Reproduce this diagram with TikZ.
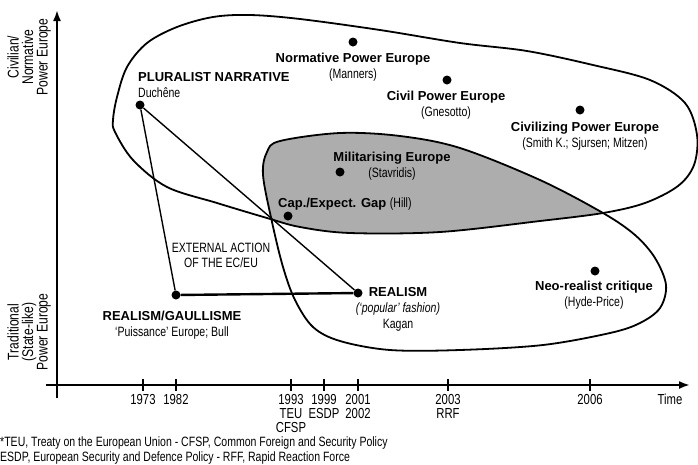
\documentclass[tikz,border=0pt]{standalone}
\usepackage{fontspec}
\setmainfont{Liberation Sans}
\newfontfamily\condfont[FakeStretch=0.78]{Liberation Sans}
\usetikzlibrary{arrows.meta}
\tikzset{
  axis/.style={line width=2pt,-{Latex[length=11pt,width=8pt]}},
  tickmark/.style={line width=1.8pt},
  blob/.style={line width=1.8pt},
  capfill/.style={fill=black!32},
  dot/.style={circle,fill=black,inner sep=0pt,minimum size=9pt},
  thinlink/.style={line width=1.4pt},
  thicklink/.style={line width=2.4pt},
  ttl/.style={font=\fontsize{13}{16}\selectfont,align=center,inner sep=0pt},
  cond/.style={font=\condfont\fontsize{13.5}{15.5}\selectfont,align=center,inner sep=0pt},
  note/.style={font=\condfont\fontsize{13.5}{14.5}\selectfont,align=left,inner sep=0pt},
  yrlbl/.style={font=\condfont\fontsize{14.5}{14}\selectfont,align=center,inner sep=0pt,anchor=north},
  sidelbl/.style={font=\condfont\fontsize{15.5}{14.5}\selectfont,align=center,inner sep=0pt,rotate=90}
}
\newcommand{\subt}[1]{{\condfont\fontsize{13.5}{16}\selectfont #1}}
\begin{document}
\begin{tikzpicture}[x=1pt,y=-1pt]
\useasboundingbox (0,0) rectangle (698,464);
\def\bigblob{plot[smooth cycle,tension=0.55] coordinates{(113,120) (117,97) (127,67) (147,43) (177,27) (213,17) (250,15) (300,19) (380,30) (460,43) (527,51) (593,65) (650,80) (685,103) (697,135) (694,165) (678,186) (645,203) (603,213) (540,221) (440,232) (350,233) (300,227) (267,218) (217,203) (167,187) (133,160) (115,132)}}
\def\lowblob{plot[smooth cycle,tension=0.55] coordinates{(263,175) (267,152) (280,141) (340,133) (400,136) (460,148) (540,180) (603,213) (635,235) (655,258) (666,285) (660,308) (640,323) (610,333) (543,345) (460,350) (390,350) (340,341) (313,327) (295,300) (283,267) (272,222)}}
% shaded overlap
\begin{scope}
\clip \bigblob;
\fill[capfill] \lowblob;
\end{scope}
\draw[blob] \bigblob;
\draw[blob] \lowblob;
% axes
\coordinate (ybot) at (57,398);
\coordinate (ytop) at (57,10);
\coordinate (xbeg) at (46,385);
\coordinate (xend) at (690,385);
\draw[axis] (ybot) -- (ytop);
\draw[axis] (xbeg) -- (xend);
\foreach \tx/\tlb in {143/1973,176/1982,291/{1993\\TEU\\CFSP},324/{1999\\ESDP},358/{2001\\2002},448/{2003\\RRF},590/2006}{\draw[tickmark](\tx,379)--(\tx,391)node[yrlbl,pos=1,yshift=-2.5pt](yr\tx){\tlb};}
\node[yrlbl] (time) at (670,393.5) {Time};
\node[sidelbl] (civil) at (29,57) {Civilian/\\Normative\\Power Europe};
\node[sidelbl] (trad) at (29,332) {Traditional\\(State-like)\\Power Europe};
% positions
\node[dot] (duchene) at (140,105) {};
\node[dot] (gaul) at (176,295) {};
\node[dot] (kagan) at (358,293) {};
\node[dot] (capgap) at (288,216) {};
\node[dot] (milit) at (340,172) {};
\node[dot] (norm) at (353,42) {};
\node[dot] (civ) at (447,80) {};
\node[dot] (civz) at (580,110) {};
\node[dot] (neo) at (595,271) {};
\draw[thinlink] (duchene) -- (gaul);
\draw[thinlink] (duchene) -- (kagan);
\draw[thicklink] (gaul) -- (kagan);
% labels
\node[ttl,align=left,anchor=west] (plur) at (138,85.5) {\bfseries PLURALIST NARRATIVE\\\subt{Duchêne}};
\node[ttl] (normlbl) at (353,67) {\bfseries Normative Power Europe\\\subt{(Manners)}};
\node[ttl] (civlbl) at (446,105) {\bfseries Civil Power Europe\\\subt{(Gnesotto)}};
\node[ttl] (civzlbl) at (585,136.5) {\bfseries Civilizing Power Europe\\\subt{(Smith K.; Sjursen; Mitzen)}};
\node[ttl] (militlbl) at (392,166.5) {\bfseries Militarising Europe\\\subt{(Stavridis)}};
\node[ttl,anchor=west] (caplbl) at (278,204) {\bfseries Cap./Expect. Gap \subt{\mdseries (Hill)}};
\node[cond] (extlbl) at (221,255.5) {EXTERNAL ACTION\\OF THE EC/EU};
\node[ttl] (gaullbl) at (172,325) {\bfseries REALISM/GAULLISME\\\subt{‘Puissance’ Europe; Bull}};
\node[ttl] (kaganlbl) at (398,309.5) {\bfseries REALISM\\\subt{\itshape (‘popular’ fashion)}\\\subt{Kagan}};
\node[ttl] (neolbl) at (594,295) {\bfseries Neo-realist critique\\\subt{(Hyde-Price)}};
\node[note,anchor=west] (foot) at (0,450.5) {*TEU, Treaty on the European Union - CFSP, Common Foreign and Security Policy\\ESDP, European Security and Defence Policy - RFF, Rapid Reaction Force};
\end{tikzpicture}
\end{document}
